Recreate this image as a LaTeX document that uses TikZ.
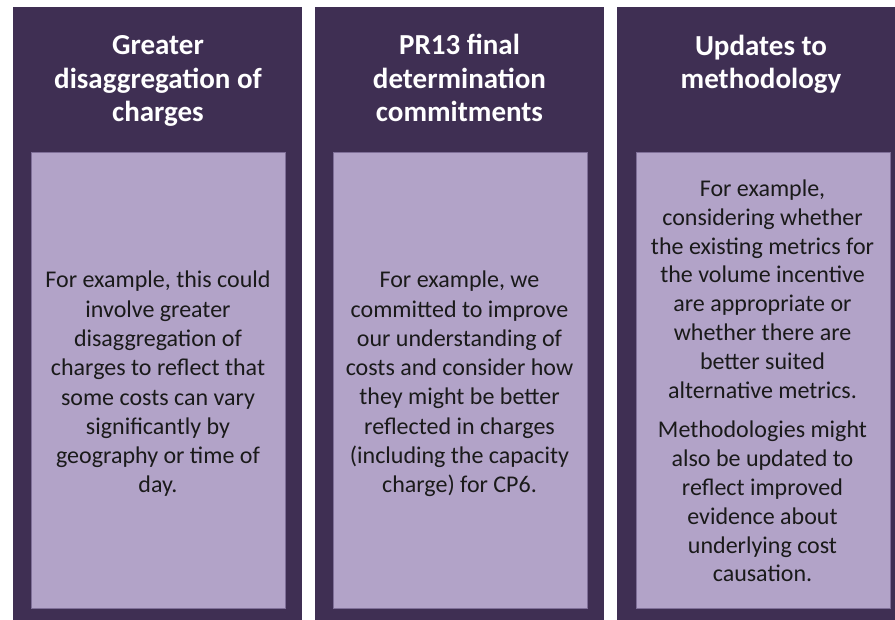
\documentclass[tikz,border=0pt]{standalone}
\usepackage{fontspec}
\setmainfont{Carlito}
\definecolor{darkpurple}{HTML}{3F2F53}
\definecolor{lightpurple}{HTML}{B2A3C8}
\definecolor{edgepurple}{HTML}{7F6F98}
\definecolor{bodytext}{HTML}{1A1A1A}
\begin{document}
\begin{tikzpicture}[x=1pt,y=1pt,
  column/.style={fill=darkpurple, draw=none, inner sep=0pt, anchor=north west, minimum height=613pt},
  inner/.style={fill=lightpurple, draw=edgepurple, line width=0.6pt, inner sep=0pt, anchor=north west, minimum width=254pt, minimum height=456pt},
  title/.style={text=white, font=\fontsize{29}{33.3}\selectfont\bfseries, align=center, inner sep=0pt},
  body/.style={text=bodytext, font=\fontsize{24}{29.3}\selectfont, align=center, inner sep=0pt}]
\useasboundingbox (0,0) rectangle (895,-620);
% columns
\node[column, minimum width=289pt] (c1) at (13,-7) {};
\node[column, minimum width=289pt] (c2) at (315,-7) {};
\node[column, minimum width=278pt] (c3) at (617,-7) {};
% inner boxes
\node[inner] (b1) at (31,-152) {};
\node[inner] (b2) at (332.5,-152) {};
\node[inner] (b3) at (635.5,-152) {};
% titles
\node[title] (t1) at (158,-81) {Greater\\disaggregation of\\charges};
\node[title] (t2) at (459.5,-78) {PR13 final\\determination\\commitments};
\node[title] (t3) at (761,-64) {Updates to\\methodology};
% body texts
\node[body] (x1) at (158,-384) {For example, this could\\involve greater\\disaggregation of\\charges to reflect that\\some costs can vary\\significantly by\\geography or time of\\day.};
\node[body] (x2) at (459.5,-384) {For example, we\\committed to improve\\our understanding of\\costs and consider how\\they might be better\\reflected in charges\\(including the capacity\\charge) for CP6.};
\node[body, font=\fontsize{24}{28.8}\selectfont] (x3) at (762.5,-381) {For example,\\considering whether\\the existing metrics for\\the volume incentive\\are appropriate or\\whether there are\\better suited\\alternative metrics.\\[11pt]Methodologies might\\also be updated to\\reflect improved\\evidence about\\underlying cost\\causation.};
\end{tikzpicture}
\end{document}
